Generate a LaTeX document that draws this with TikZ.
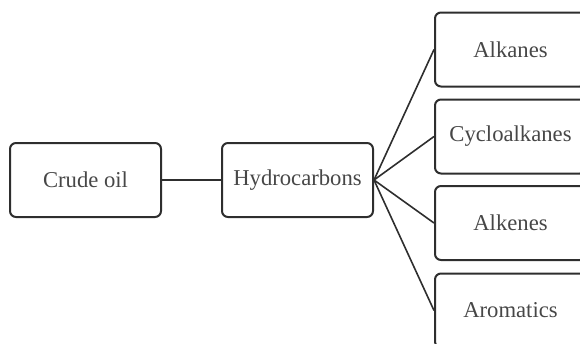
\documentclass[tikz,border=0pt]{standalone}
\usepackage{fontspec}
\setmainfont{Liberation Serif}
\usepackage{xcolor}
\usepackage{tikz}
\definecolor{boxline}{HTML}{2E2E2E}
\definecolor{boxtext}{HTML}{474747}
\tikzset{CRbox/.style={shape=rectangle,draw=boxline,line width=1.5pt,rounded corners=4.5pt,
	minimum width=113.25pt,minimum height=55.5pt,text=boxtext,font=\fontsize{17}{20}\selectfont}}

\begin{document}
\begin{tikzpicture}[x=0.75pt,y=-0.75pt]
	\clip (0,0) rectangle (580,343);
	\node[CRbox] (crude) at (85.5,180) {Crude oil};
	\node[CRbox] (hydro) at (297.5,180) {Hydrocarbons};
	\node[CRbox] (alk) at (510.5,49.5) {Alkanes};
	\node[CRbox] (cyc) at (510.5,136.5) {Cycloalkanes};
	\node[CRbox] (alke) at (510.5,223) {Alkenes};
	\node[CRbox] (arom) at (510.5,310.5) {Aromatics};
	%
	\path[draw=boxline,line width=1.2pt]
	(crude) edge (hydro)
	(hydro.east) edge (alk.west)
	(hydro.east) edge (cyc.west)
	(hydro.east) edge (alke.west)
	(hydro.east) edge (arom.west);
\end{tikzpicture}
\end{document}
